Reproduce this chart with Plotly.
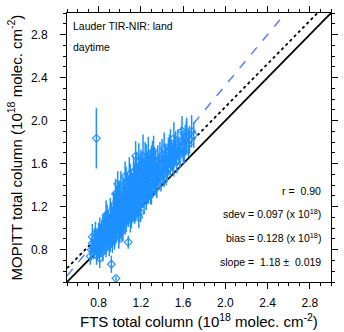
import plotly.graph_objects as go

# FTS (x), MOPITT (y), MOPITT error (e), units 1e18 molec/cm2
fts = [0.72,0.73,0.74,0.75,0.76,0.77,0.78,0.79,0.80,0.80,0.81,0.82,0.83,0.84,0.84,0.85,
       0.86,0.86,0.87,0.88,0.88,0.89,0.90,0.90,0.91,0.92,0.92,0.93,0.93,0.94,0.95,0.95,0.963,
       0.96,0.97,0.97,0.98,0.98,0.99,1.00,1.00,1.01,1.02,1.02,1.03,1.04,1.05,1.05,1.05,
       1.06,1.07,1.08,1.08,1.09,1.10,1.10,1.11,1.12,1.12,1.13,1.14,1.15,1.15,1.15,
       1.16,1.17,1.18,1.18,1.19,1.197,1.20,1.20,1.21,1.22,1.22,1.23,1.24,1.25,1.25,
       1.26,1.27,1.28,1.29,1.30,1.30,1.31,1.32,1.33,1.34,1.35,1.35,
       1.37,1.38,1.39,1.40,1.42,1.42,1.44,1.45,1.46,1.48,1.48,1.50,
       1.512,1.52,1.54,1.55,1.57,1.589,1.60,1.605,1.62,1.634,1.65,1.68,1.70,
       0.778,
       0.74,0.76,0.77,0.78,0.79,0.81,0.82,0.83,0.85,0.85,0.86,0.87,0.88,0.89,0.90,0.91,0.91,
       0.92,0.93,0.94,0.94,0.95,0.96,0.96,0.97,0.98,0.99,0.99,1.00,1.01,1.01,1.02,1.03,1.03,
       1.04,1.04,1.06,1.06,1.07,1.07,1.08,1.09,1.09,1.10,1.11,1.11,1.12,1.13,1.13,1.14,1.14,
       1.16,1.16,1.17,1.17,1.18,1.19,1.19,1.21,1.21,1.23,1.23,1.24,1.24,1.26,1.26,1.27,1.28,
       1.29,1.29,1.31,1.31,1.32,1.33,1.34,1.36,1.36,1.38,1.40,1.41,1.43,1.44,1.46,1.47,1.49,
       1.51,1.53,1.56,1.58,1.61,1.63,1.66]
mopitt = [0.74,0.80,0.86,0.78,0.90,0.83,0.75,0.88,0.95,0.80,0.72,0.92,0.85,1.00,0.78,0.93,
          0.88,1.05,0.82,0.97,1.10,0.90,1.02,0.84,1.15,0.95,0.665,1.08,0.88,1.20,1.00,0.92,0.534,
          1.10,0.98,1.25,1.41,1.05,0.93,1.15,1.30,1.02,1.20,0.97,1.35,1.10,1.48,1.25,1.05,
          1.18,1.38,0.87,1.12,1.28,1.45,1.08,1.22,1.35,1.15,1.52,1.26,1.67,1.18,1.40,
          1.30,1.20,1.10,1.48,1.35,1.146,1.58,1.25,1.42,1.67,1.30,1.52,1.38,1.60,1.28,
          1.45,1.35,1.55,1.40,1.62,1.32,1.50,1.72,1.42,1.58,1.48,1.38,
          1.55,1.65,1.45,1.58,1.74,1.50,1.62,1.55,1.70,1.77,1.60,1.65,
          1.835,1.72,1.62,1.78,1.68,1.903,1.75,1.70,1.82,1.897,1.78,1.90,1.867,
          1.835,
          0.92,0.82,0.95,0.86,0.80,0.98,0.84,0.95,1.02,0.85,0.96,1.12,0.90,1.05,0.95,1.00,0.88,
          1.10,1.00,0.95,1.08,1.18,0.98,1.32,1.12,1.20,1.05,1.28,0.98,1.12,1.38,1.08,1.22,1.00,
          1.30,1.18,1.42,1.08,1.25,1.15,1.32,1.18,1.50,1.25,1.40,1.12,1.28,1.20,1.38,1.45,1.15,
          1.55,1.22,1.42,1.32,1.62,1.25,1.50,1.32,1.55,1.40,1.25,1.62,1.48,1.35,1.55,1.68,1.42,
          1.58,1.34,1.42,1.65,1.52,1.60,1.45,1.62,1.50,1.48,1.68,1.55,1.65,1.52,1.62,1.72,1.68,
          1.60,1.75,1.72,1.80,1.72,1.85,1.82]
err = [0.08,0.10,0.09,0.07,0.10,0.08,0.09,0.11,0.10,0.08,0.09,0.12,0.10,0.11,0.09,0.10,
       0.12,0.10,0.09,0.13,0.12,0.10,0.11,0.10,0.13,0.12,0.08,0.12,0.11,0.14,0.10,0.12,0.02,
       0.12,0.11,0.15,0.12,0.10,0.12,0.13,0.14,0.11,0.12,0.10,0.13,0.12,0.14,0.13,0.11,
       0.12,0.14,0.06,0.11,0.13,0.15,0.12,0.12,0.14,0.10,0.15,0.13,0.14,0.12,0.13,
       0.12,0.11,0.10,0.14,0.13,0.09,0.15,0.12,0.13,0.20,0.11,0.14,0.12,0.18,0.11,
       0.13,0.12,0.14,0.11,0.15,0.10,0.13,0.14,0.12,0.14,0.11,0.10,
       0.13,0.15,0.11,0.14,0.15,0.12,0.13,0.12,0.14,0.15,0.12,0.13,
       0.15,0.14,0.11,0.14,0.12,0.14,0.13,0.10,0.14,0.13,0.12,0.15,0.12,
       0.28,
       0.12,0.10,0.11,0.12,0.10,0.12,0.11,0.13,0.12,0.10,0.13,0.14,0.11,0.12,0.13,0.12,0.10,
       0.14,0.13,0.11,0.12,0.15,0.13,0.14,0.12,0.13,0.14,0.15,0.12,0.13,0.15,0.11,0.14,0.12,
       0.15,0.12,0.15,0.12,0.13,0.11,0.15,0.12,0.16,0.13,0.15,0.12,0.13,0.12,0.14,0.16,0.11,
       0.16,0.12,0.15,0.13,0.17,0.12,0.15,0.13,0.16,0.14,0.12,0.18,0.15,0.13,0.16,0.17,0.13,
       0.15,0.12,0.14,0.16,0.15,0.14,0.13,0.15,0.13,0.12,0.15,0.13,0.14,0.12,0.13,0.15,0.14,
       0.12,0.15,0.13,0.14,0.12,0.15,0.13]

r_val = 0.90
sdev = 0.097
bias = 0.128
slope = 1.18
slope_err = 0.019
intercept = -0.032
axis_range = [0.5, 3.0]

blue = "#1e90ff"
font_fam = "Liberation Sans, Arial, sans-serif"

fig = go.Figure()
fig.add_trace(go.Scatter(x=axis_range, y=axis_range, mode="lines",
                         line=dict(color="black", width=1.8), hoverinfo="skip"))
fig.add_trace(go.Scatter(x=axis_range, y=[v + bias for v in axis_range], mode="lines",
                         line=dict(color="black", width=1.8, dash="dot"), hoverinfo="skip"))
fig.add_trace(go.Scatter(x=axis_range, y=[slope * v + intercept for v in axis_range], mode="lines",
                         line=dict(color="#4a78ee", width=1.4, dash="dash"), hoverinfo="skip"))
fig.add_trace(go.Scatter(x=fts, y=mopitt, mode="markers",
                         marker=dict(symbol="diamond-open", size=6, color=blue, line=dict(width=1.1, color=blue)),
                         error_y=dict(type="data", array=err, visible=True, color=blue, thickness=1.5, width=0)))

axis_common = dict(range=axis_range, showgrid=False, zeroline=False, showline=True, linecolor="black",
                   linewidth=1, mirror="ticks", ticks="outside", ticklen=6, tickwidth=1, tickcolor="black",
                   tick0=0, dtick=0.4, tickformat=".1f",
                   tickfont=dict(family=font_fam, size=12, color="black"),
                   minor=dict(dtick=0.1, ticks="outside", ticklen=3, tickcolor="black", tickwidth=1))

fig.update_xaxes(**axis_common, ticklabelstandoff=4)
fig.update_yaxes(**axis_common, ticklabelstandoff=10)

ann_font = dict(family=font_fam, size=10.5, color="black")
annotations = [
    dict(text="Lauder TIR-NIR: land", x=0.5, y=2.88, xref="x", yref="y", xanchor="left", yanchor="middle",
         showarrow=False, font=ann_font, xshift=4),
    dict(text="daytime", x=0.5, y=2.68, xref="x", yref="y", xanchor="left", yanchor="middle",
         showarrow=False, font=ann_font, xshift=4),
    dict(text="r =  %.2f" % r_val, x=3.0, y=1.346, xref="x", yref="y", xanchor="right", yanchor="middle",
         showarrow=False, font=ann_font, xshift=-8),
    dict(text="sdev = %.3f (x 10<sup>18</sup>)" % sdev, x=3.0, y=1.135, xref="x", yref="y", xanchor="right",
         yanchor="middle", showarrow=False, font=ann_font, xshift=-8),
    dict(text="bias = %.3f (x 10<sup>18</sup>)" % bias, x=3.0, y=0.915, xref="x", yref="y", xanchor="right",
         yanchor="middle", showarrow=False, font=ann_font, xshift=-8),
    dict(text="slope =  %.2f \u00b1  %.3f" % (slope, slope_err), x=3.0, y=0.685, xref="x", yref="y",
         xanchor="right", yanchor="middle", showarrow=False, font=ann_font, xshift=-8),
    dict(text="FTS total column (10<sup>18</sup> molec. cm<sup>-2</sup>)", x=0.5, y=0, xref="paper", yref="paper",
         xanchor="center", yanchor="middle", showarrow=False, yshift=-38,
         font=dict(family=font_fam, size=15, color="black")),
    dict(text="MOPITT total column (10<sup>18</sup> molec. cm<sup>-2</sup>)", x=0, y=0.5, xref="paper", yref="paper",
         xanchor="center", yanchor="middle", showarrow=False, textangle=-90, xshift=-52,
         font=dict(family=font_fam, size=15, color="black")),
]

fig.update_layout(width=344, height=332, margin=dict(l=67, r=6, t=10, b=50),
                  paper_bgcolor="white", plot_bgcolor="white", showlegend=False,
                  annotations=annotations)

fig.write_html("out.html", config={"displayModeBar": False},
               post_script="document.body.style.margin='0';")
